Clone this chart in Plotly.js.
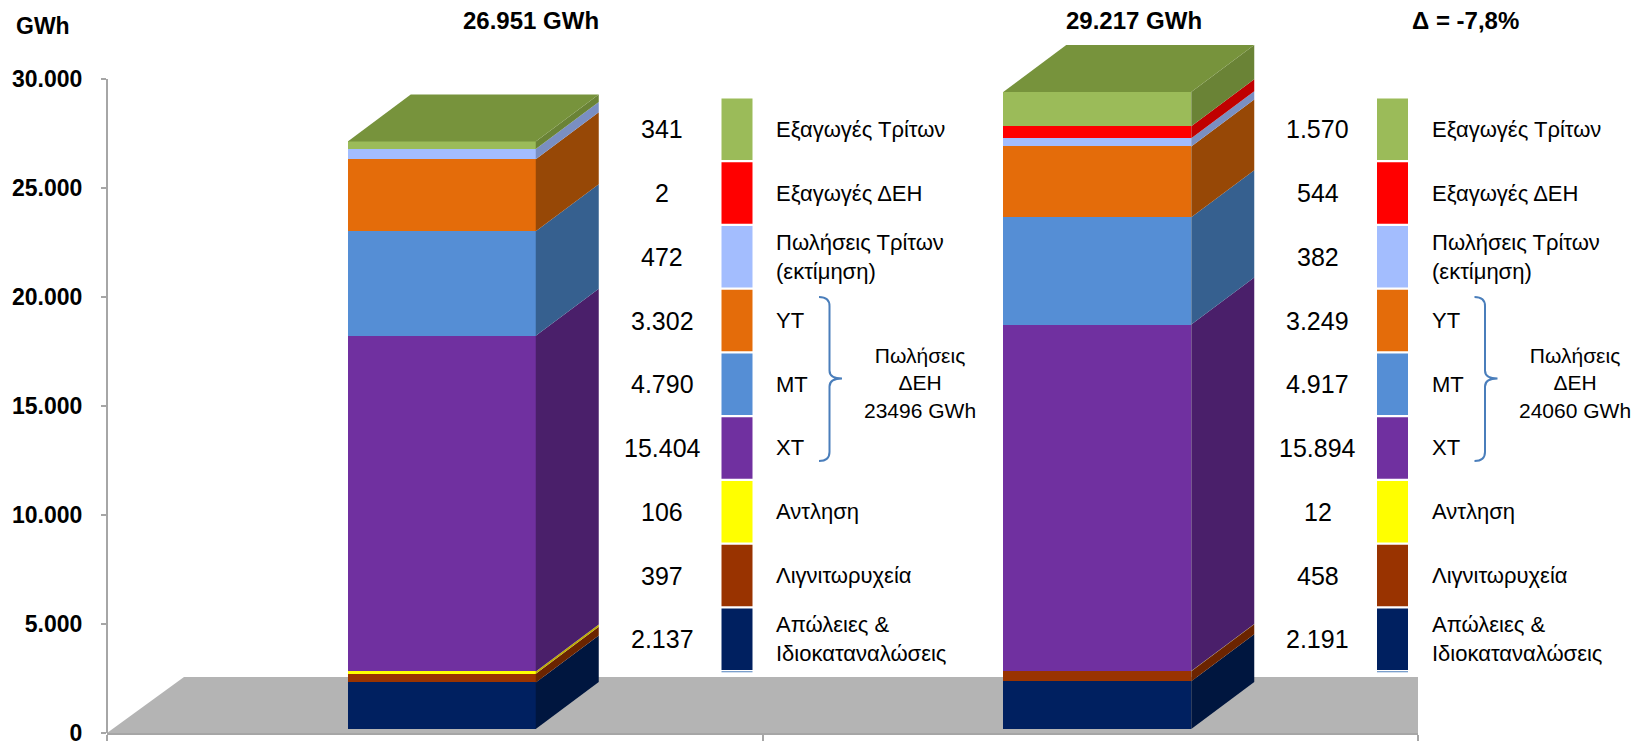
<!DOCTYPE html>
<html><head><meta charset="utf-8">
<script src="https://cdn.plot.ly/plotly-3.0.1.min.js"></script>
<style>html,body{margin:0;padding:0;background:#fff;}#chart{width:1652px;height:743px;}</style>
</head><body><div id="chart"></div>
<script>
// ---------- DATA ----------
const categories = ['Περίοδος 1', 'Περίοδος 2'];
// stacking order: bottom -> top
const seriesNames = ['Απώλειες &<br>Ιδιοκαταναλώσεις', 'Λιγνιτωρυχεία', 'Αντληση', 'ΧΤ', 'ΜΤ', 'ΥΤ',
                     'Πωλήσεις Τρίτων<br>(εκτίμηση)', 'Εξαγωγές ΔΕΗ', 'Εξαγωγές Τρίτων'];
const valuesP1 = [2137, 397, 106, 15404, 4790, 3302, 472, 2, 341];
const valuesP2 = [2191, 458, 12, 15894, 4917, 3249, 382, 544, 1570];
const groupSeries = ['ΧΤ', 'ΜΤ', 'ΥΤ'];
const groupLabel = 'Πωλήσεις<br>ΔΕΗ';
const unit = 'GWh';
const yTicks = [0, 5000, 10000, 15000, 20000, 25000, 30000];

// ---------- STYLE ----------
const frontColors = ['#002060', '#993300', '#FFFF00', '#7030A0', '#558ED5', '#E46C0A', '#A3BDFE', '#FF0000', '#9BBB59'];
const sideColors  = ['#00163F', '#6B2400', '#BFAE00', '#4A1F6A', '#36608F', '#974806', '#7A8FC2', '#C00000', '#6A8336'];
const topColor = '#77933C';
const FONT = 'Liberation Sans, Arial, sans-serif';

const W = 1652, H = 743;
const L = 107, R = 1418, B = 733, TOP = 30;    // plot area pixels
const pxPerY = 654 / 30000;                     // 30000 at y=79
const yMax = (B - TOP) / pxPerY;
const xMax = categories.length;
const pxPerX = (R - L) / xMax;

const px2x = p => (p - L) / (R - L);
const py2y = p => (B - p) / (B - TOP);

const fmt = n => String(n).replace(/\B(?=(\d{3})+(?!\d))/g, '.');

const allValues = [valuesP1, valuesP2];
const xPos = categories.map((c, i) => i + 0.5);

// depth geometry (pixels -> axis units)
const floorDx = 77 / pxPerX, floorDy = 56 / pxPerY;
const barW = 188 / pxPerX, barDx = 63 / pxPerX, barDy = 47 / pxPerY;
const offX = 7 / pxPerX, offY = 4 / pxPerY;

// ---------- TRACES ----------
const traces = seriesNames.map((name, s) => ({
  type: 'bar', name: name.replace('<br>', ' '),
  x: xPos, y: allValues.map(v => v[s]),
  xaxis: 'x2', yaxis: 'y2', width: barW,
  marker: {color: frontColors[s], line: {width: 0}},
  showlegend: false, hoverinfo: 'skip'
}));

// ---------- SHAPES ----------
const shapes = [];
// floor
shapes.push({type: 'path', xref: 'x', yref: 'y', layer: 'below',
  path: `M 0,0 L ${xMax},0 L ${xMax + floorDx},${floorDy} L ${floorDx},${floorDy} Z`,
  fillcolor: '#B4B4B4', line: {width: 0}});
// y axis line
shapes.push({type: 'line', xref: 'paper', yref: 'y', x0: 0, x1: 0, y0: 0, y1: yTicks[yTicks.length - 1],
  line: {color: '#A6A6A6', width: 2}});

// bar sides & tops
allValues.forEach((vals, j) => {
  const xl = xPos[j] - barW / 2, xr = xPos[j] + barW / 2;
  let cum = 0;
  vals.forEach((v, s) => {
    const b = cum, t = cum + v;
    shapes.push({type: 'path', xref: 'x2', yref: 'y2',
      path: `M ${xr},${b} L ${xr + barDx},${b + barDy} L ${xr + barDx},${t + barDy} L ${xr},${t} Z`,
      fillcolor: sideColors[s], line: {width: 0}});
    cum = t;
  });
  shapes.push({type: 'path', xref: 'x2', yref: 'y2',
    path: `M ${xl},${cum} L ${xr},${cum} L ${xr + barDx},${cum + barDy} L ${xl + barDx},${cum + barDy} Z`,
    fillcolor: topColor, line: {width: 0}});
});

// ---------- LEGEND BLOCKS & ANNOTATIONS ----------
const annotations = [];
const rowTop0 = 98.5, rowPitch = 63.75, boxH = 61.5;
const nS = seriesNames.length;

allValues.forEach((vals, j) => {
  const dxp = j * pxPerX;
  const numX = 662 + dxp, boxX0 = 721.5 + dxp, boxX1 = 752.5 + dxp, labX = 774 + dxp;
  for (let r = 0; r < nS; r++) {
    const s = nS - 1 - r;
    const top = rowTop0 + r * rowPitch, mid = top + boxH / 2;
    shapes.push({type: 'rect', xref: 'paper', yref: 'paper',
      x0: px2x(boxX0), x1: px2x(boxX1), y0: py2y(top), y1: py2y(top + boxH),
      fillcolor: frontColors[s], line: {width: 0}});
    annotations.push({xref: 'paper', yref: 'paper', x: px2x(numX), y: py2y(mid),
      xanchor: 'center', yanchor: 'middle', showarrow: false, text: fmt(vals[s]),
      font: {family: FONT, size: 25, color: '#000'}});
    annotations.push({xref: 'paper', yref: 'paper', x: px2x(labX), y: py2y(mid),
      xanchor: 'left', yanchor: 'middle', showarrow: false, align: 'left', text: seriesNames[s],
      font: {family: FONT, size: 22, color: '#000'}});
  }
  // thin line under last box
  const lastY = rowTop0 + nS * rowPitch - 0.5;
  shapes.push({type: 'line', xref: 'paper', yref: 'paper', x0: px2x(boxX0), x1: px2x(boxX1),
    y0: py2y(lastY), y1: py2y(lastY), line: {color: '#4F81BD', width: 1}});

  // bracket
  const bx0 = 819 + dxp, bx1 = 829.5 + dxp, bx2 = 842 + dxp;
  const by0 = 297, by1 = 378.5, by2 = 461;
  const P = (x, y) => `${px2x(x)},${py2y(y)}`;
  shapes.push({type: 'path', xref: 'paper', yref: 'paper',
    path: `M ${P(bx0, by0)} Q ${P(bx1, by0)} ${P(bx1, by0 + 9)} L ${P(bx1, by1 - 8)} Q ${P(bx1, by1)} ${P(bx2, by1)} ` +
          `Q ${P(bx1, by1)} ${P(bx1, by1 + 8)} L ${P(bx1, by2 - 9)} Q ${P(bx1, by2)} ${P(bx0, by2)}`,
    line: {color: '#4A7EBB', width: 2}});
  const groupSum = groupSeries.reduce((a, g) => a + vals[seriesNames.indexOf(g)], 0);
  annotations.push({xref: 'paper', yref: 'paper', x: px2x(920 + dxp), y: py2y(383),
    xanchor: 'center', yanchor: 'middle', showarrow: false, align: 'center',
    text: `${groupLabel}<br>${groupSum} ${unit}`,
    font: {family: FONT, size: 21, color: '#000'}});
});

// totals & delta
const totals = allValues.map(v => v.reduce((a, b) => a + b, 0));
const totalX = [531, 1134];
totals.forEach((t, j) => annotations.push({xref: 'paper', yref: 'paper', x: px2x(totalX[j]), y: py2y(20),
  xanchor: 'center', yanchor: 'middle', showarrow: false, text: `${fmt(t)} ${unit}`,
  font: {family: FONT, size: 24, color: '#000', weight: 'bold'}}));
const delta = (totals[0] - totals[1]) / totals[1] * 100;
annotations.push({xref: 'paper', yref: 'paper', x: px2x(1465), y: py2y(20),
  xanchor: 'center', yanchor: 'middle', showarrow: false,
  text: `Δ = ${delta.toFixed(1).replace('.', ',')}%`,
  font: {family: FONT, size: 24, color: '#000', weight: 'bold'}});
annotations.push({xref: 'paper', yref: 'paper', x: px2x(43), y: py2y(26),
  xanchor: 'center', yanchor: 'middle', showarrow: false, text: unit,
  font: {family: FONT, size: 23, color: '#000', weight: 'bold'}});

// ---------- LAYOUT ----------
const layout = {
  width: W, height: H,
  margin: {l: L, r: W - R, t: TOP, b: H - B, pad: 0},
  paper_bgcolor: '#fff', plot_bgcolor: 'rgba(0,0,0,0)',
  barmode: 'stack', bargap: 0,
  showlegend: false,
  xaxis: {range: [0, xMax], showgrid: false, zeroline: false, showline: true, linecolor: '#A6A6A6', linewidth: 2,
          ticks: 'outside', tickvals: [0, 1, 2], ticklen: 6, tickwidth: 2, tickcolor: '#A6A6A6', showticklabels: false,
          fixedrange: true},
  yaxis: {range: [0, yMax], showgrid: false, zeroline: false, showline: false,
          tickvals: yTicks, ticktext: yTicks.map(fmt), ticks: 'outside', ticklen: 5, tickwidth: 2, tickcolor: '#A6A6A6',
          ticklabelstandoff: 14, ticklabeloverflow: 'allow',
          tickfont: {family: FONT, size: 23, color: '#000', weight: 'bold'}, fixedrange: true},
  xaxis2: {overlaying: 'x', range: [-offX, xMax - offX], visible: false, fixedrange: true},
  yaxis2: {overlaying: 'y', range: [-offY, yMax - offY], visible: false, fixedrange: true},
  shapes: shapes,
  annotations: annotations
};

Plotly.newPlot('chart', traces, layout, {displayModeBar: false, staticPlot: true});
</script>
</body></html>
